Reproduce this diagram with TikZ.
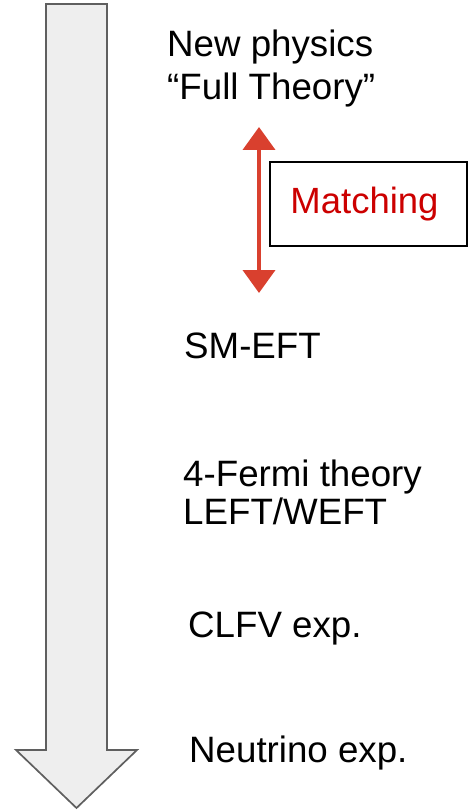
\documentclass[tikz,border=0pt]{standalone}
\usepackage{fontspec}
\setmainfont{Liberation Sans}
\usetikzlibrary{arrows.meta}
\definecolor{shaftfill}{HTML}{EEEEEE}
\definecolor{shaftline}{HTML}{5F5F5F}
\definecolor{matchred}{HTML}{D9402E}
\definecolor{labelred}{HTML}{CC0000}
\begin{document}
\begin{tikzpicture}[x=1pt,y=-1pt,
  level/.style={anchor=base west,inner sep=0pt,font=\fontsize{36.7}{43}\selectfont},
  matchbox/.style={draw=black,line width=1.5pt,minimum width=197pt,minimum height=84pt,inner sep=0pt,
    text=labelred,font=\fontsize{36.5}{43}\selectfont},
  matcharrow/.style={draw=matchred,line width=4pt,
    {Triangle[width=32pt,length=23pt]}-{Triangle[width=32pt,length=23pt]}}]
  \useasboundingbox (0,0) rectangle (475,810);
  % downward scale arrow
  \draw[fill=shaftfill,draw=shaftline,line width=1.7pt,line join=miter]
    (46,4) -- (107,4) -- (107,750) -- (137,750) -- (76.5,808) -- (16,750) -- (46,750) -- cycle;
  % levels
  \node[level] (np) at (167,57) {New physics};
  \node[level] (ft) at (167,100) {“Full Theory”};
  \node[level] (sm) at (184,358) {SM-EFT};
  \node[level] (ff) at (183,486) {4-Fermi theory};
  \node[level] (lw) at (183,524) {LEFT/WEFT};
  \node[level] (cl) at (188,637) {CLFV exp.};
  \node[level] (nu) at (189,762) {Neutrino exp.};
  % matching step
  \node[matchbox] (mt) at (368.5,204) {\hspace*{-8pt}Matching};
  \coordinate (mtop) at (259,127);
  \coordinate (mbot) at (259,293);
  \draw[matcharrow] (mtop) -- (mbot);
\end{tikzpicture}
\end{document}
